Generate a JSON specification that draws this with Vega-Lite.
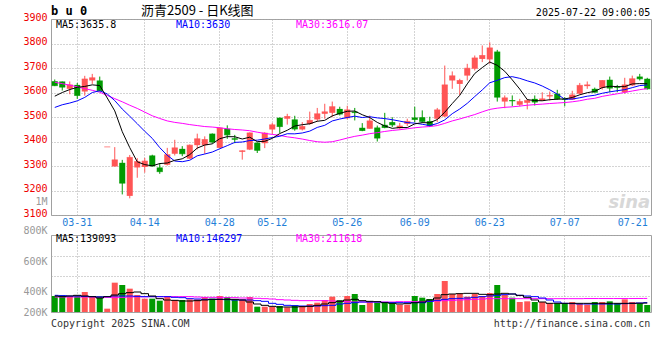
{
"$schema": "https://vega.github.io/schema/vega-lite/v6.json",
"background": "white",
"padding": {"left": 22, "top": 4, "right": 0, "bottom": 0},
"bounds": "flush",
"spacing": 20,
"resolve": {"scale": {"x": "independent", "y": "independent"}},
"config": {
  "numberFormat": "d",
  "view": {"stroke": "#a0a0a0", "strokeWidth": 1},
  "axis": {"gridColor": "#a8a8a8", "gridDash": [1, 2], "gridWidth": 1, "ticks": false, "tickSize": 0, "domain": false, "labelFont": "DejaVu Sans Mono", "labelFontSize": 10, "labelOverlap": false},
  "axisY": {"labelOverlap": false, "labelFlush": false, "labelPadding": 4, "labelBound": false},
  "text": {"font": "DejaVu Sans Mono", "fontSize": 10}
},
"datasets": {"k": [
{"d":"03-26","o":3646,"h":3653,"l":3626,"c":3628,"v":249600,"m5":3585,"m10":3539,"m30":3642,"vm5":249600,"vm10":260000,"vm30":234000},
{"d":"03-27","o":3645,"h":3645,"l":3608,"c":3622,"v":260000,"m5":3600,"m10":3550,"m30":3636,"vm5":239200,"vm10":254800,"vm30":234000},
{"d":"03-28","o":3615,"h":3645,"l":3593,"c":3631,"v":249600,"m5":3612,"m10":3557,"m30":3630,"vm5":249600,"vm10":249600,"vm30":234000},
{"d":"03-31","o":3631,"h":3639,"l":3574,"c":3588,"v":249600,"m5":3621,"m10":3566,"m30":3623,"vm5":260000,"vm10":249600,"vm30":234000},
{"d":"04-01","o":3604,"h":3668,"l":3587,"c":3655,"v":312000,"m5":3624.8,"m10":3580,"m30":3616,"vm5":249600,"vm10":244400,"vm30":234000},
{"d":"04-02","o":3649,"h":3676,"l":3635,"c":3660,"v":249600,"m5":3631.2,"m10":3600,"m30":3609,"vm5":239200,"vm10":239200,"vm30":234000},
{"d":"04-03","o":3649,"h":3665,"l":3604,"c":3607,"v":249600,"m5":3628.2,"m10":3607,"m30":3601,"vm5":218400,"vm10":234000,"vm30":231400},
{"d":"04-07","o":3378,"h":3378,"l":3378,"c":3378,"v":52000,"m5":3577.6,"m10":3594,"m30":3588,"vm5":239200,"vm10":239200,"vm30":228800},
{"d":"04-08","o":3298,"h":3377,"l":3298,"c":3325,"v":457600,"m5":3525,"m10":3567,"m30":3575,"vm5":265200,"vm10":249600,"vm30":223600},
{"d":"04-09","o":3313,"h":3325,"l":3184,"c":3230,"v":421200,"m5":3440,"m10":3532.4,"m30":3562,"vm5":286000,"vm10":249600,"vm30":228800},
{"d":"04-10","o":3178,"h":3345,"l":3168,"c":3335,"v":364000,"m5":3375,"m10":3503.1,"m30":3548,"vm5":301600,"vm10":249600,"vm30":234000},
{"d":"04-11","o":3294,"h":3332,"l":3252,"c":3318,"v":265200,"m5":3317.2,"m10":3472.7,"m30":3535,"vm5":312000,"vm10":244400,"vm30":236600},
{"d":"04-14","o":3296,"h":3333,"l":3273,"c":3320,"v":208000,"m5":3305.6,"m10":3441.6,"m30":3520,"vm5":286000,"vm10":239200,"vm30":236600},
{"d":"04-15","o":3343,"h":3346,"l":3298,"c":3300,"v":208000,"m5":3300.6,"m10":3412.8,"m30":3505,"vm5":249600,"vm10":239200,"vm30":239200},
{"d":"04-16","o":3294,"h":3312,"l":3268,"c":3277,"v":176800,"m5":3310,"m10":3375,"m30":3494,"vm5":208000,"vm10":239200,"vm30":239200},
{"d":"04-17","o":3305,"h":3374,"l":3302,"c":3346,"v":249600,"m5":3312.2,"m10":3343.6,"m30":3484,"vm5":187200,"vm10":239200,"vm30":239200},
{"d":"04-18","o":3350,"h":3407,"l":3343,"c":3374,"v":187200,"m5":3323.4,"m10":3320.3,"m30":3478,"vm5":182000,"vm10":228800,"vm30":239200},
{"d":"04-21","o":3370,"h":3381,"l":3340,"c":3350,"v":187200,"m5":3329.4,"m10":3317.5,"m30":3474,"vm5":171600,"vm10":223600,"vm30":239200},
{"d":"04-22","o":3330,"h":3388,"l":3328,"c":3385,"v":197600,"m5":3346.4,"m10":3323.5,"m30":3469,"vm5":171600,"vm10":208000,"vm30":239200},
{"d":"04-23","o":3385,"h":3432,"l":3368,"c":3411,"v":197600,"m5":3373.2,"m10":3341.6,"m30":3465,"vm5":176800,"vm10":202800,"vm30":234000},
{"d":"04-24","o":3385,"h":3421,"l":3350,"c":3408,"v":234000,"m5":3385.6,"m10":3348.9,"m30":3461,"vm5":187200,"vm10":197600,"vm30":228800},
{"d":"04-25","o":3432,"h":3433,"l":3392,"c":3398,"v":208000,"m5":3390.4,"m10":3356.9,"m30":3459,"vm5":197600,"vm10":197600,"vm30":228800},
{"d":"04-28","o":3374,"h":3457,"l":3374,"c":3455,"v":249600,"m5":3411.4,"m10":3370.4,"m30":3456,"vm5":197600,"vm10":197600,"vm30":228800},
{"d":"04-29","o":3452,"h":3466,"l":3411,"c":3427,"v":234000,"m5":3419.8,"m10":3383.1,"m30":3452,"vm5":197600,"vm10":192400,"vm30":223600},
{"d":"04-30","o":3413,"h":3427,"l":3393,"c":3409,"v":197600,"m5":3419.4,"m10":3396.3,"m30":3449,"vm5":197600,"vm10":187200,"vm30":223600},
{"d":"05-06","o":3358,"h":3364,"l":3326,"c":3362,"v":197600,"m5":3410.2,"m10":3397.9,"m30":3447,"vm5":187200,"vm10":187200,"vm30":218400},
{"d":"05-07","o":3367,"h":3437,"l":3365,"c":3435,"v":234000,"m5":3417.6,"m10":3404,"m30":3444,"vm5":156000,"vm10":187200,"vm30":218400},
{"d":"05-08","o":3395,"h":3397,"l":3353,"c":3364,"v":83200,"m5":3399.4,"m10":3405.4,"m30":3438,"vm5":124800,"vm10":176800,"vm30":213200},
{"d":"05-09","o":3393,"h":3438,"l":3373,"c":3434,"v":83200,"m5":3400.8,"m10":3410.3,"m30":3433,"vm5":104000,"vm10":166400,"vm30":208000},
{"d":"05-12","o":3449,"h":3476,"l":3431,"c":3468,"v":83200,"m5":3412.6,"m10":3416,"m30":3429,"vm5":88400,"vm10":135200,"vm30":202800},
{"d":"05-13","o":3497,"h":3498,"l":3435,"c":3461,"v":93600,"m5":3432.4,"m10":3421.3,"m30":3425,"vm5":78000,"vm10":119600,"vm30":192400},
{"d":"05-14","o":3493,"h":3513,"l":3469,"c":3502,"v":72800,"m5":3445.8,"m10":3431.7,"m30":3419,"vm5":78000,"vm10":104000,"vm30":187200},
{"d":"05-15","o":3490,"h":3505,"l":3444,"c":3451,"v":104000,"m5":3463.2,"m10":3431.3,"m30":3415,"vm5":78000,"vm10":98800,"vm30":182000},
{"d":"05-16","o":3449,"h":3479,"l":3445,"c":3461,"v":93600,"m5":3468.6,"m10":3434.7,"m30":3410,"vm5":83200,"vm10":93600,"vm30":176800},
{"d":"05-19","o":3472,"h":3522,"l":3468,"c":3486,"v":124800,"m5":3472.2,"m10":3442.4,"m30":3404,"vm5":88400,"vm10":93600,"vm30":176800},
{"d":"05-20","o":3490,"h":3537,"l":3482,"c":3513,"v":145600,"m5":3482.6,"m10":3457.5,"m30":3399,"vm5":104000,"vm10":93600,"vm30":176800},
{"d":"05-21","o":3513,"h":3554,"l":3493,"c":3521,"v":187200,"m5":3486.4,"m10":3466.1,"m30":3397,"vm5":124800,"vm10":98800,"vm30":176800},
{"d":"05-22","o":3517,"h":3563,"l":3499,"c":3542,"v":239200,"m5":3504.6,"m10":3483.9,"m30":3399,"vm5":145600,"vm10":104000,"vm30":171600},
{"d":"05-23","o":3533,"h":3542,"l":3506,"c":3512,"v":187200,"m5":3514.8,"m10":3491.7,"m30":3406,"vm5":166400,"vm10":124800,"vm30":166400},
{"d":"05-26","o":3495,"h":3546,"l":3490,"c":3529,"v":249600,"m5":3523.4,"m10":3497.8,"m30":3414,"vm5":187200,"vm10":135200,"vm30":161200},
{"d":"05-27","o":3522,"h":3537,"l":3486,"c":3518,"v":280800,"m5":3524.4,"m10":3503.5,"m30":3421,"vm5":197600,"vm10":145600,"vm30":156000},
{"d":"05-28","o":3456,"h":3475,"l":3442,"c":3445,"v":109200,"m5":3509.2,"m10":3497.8,"m30":3426,"vm5":176800,"vm10":156000,"vm30":156000},
{"d":"05-29","o":3452,"h":3506,"l":3452,"c":3484,"v":156000,"m5":3497.6,"m10":3501.1,"m30":3432,"vm5":166400,"vm10":156000,"vm30":156000},
{"d":"05-30","o":3457,"h":3465,"l":3400,"c":3414,"v":145600,"m5":3478,"m10":3496.4,"m30":3436,"vm5":161200,"vm10":156000,"vm30":156000},
{"d":"06-03","o":3468,"h":3517,"l":3454,"c":3457,"v":145600,"m5":3463.6,"m10":3493.5,"m30":3441,"vm5":145600,"vm10":150800,"vm30":156000},
{"d":"06-04","o":3479,"h":3499,"l":3459,"c":3468,"v":135200,"m5":3453.6,"m10":3489,"m30":3445,"vm5":135200,"vm10":145600,"vm30":156000},
{"d":"06-05","o":3454,"h":3476,"l":3449,"c":3463,"v":114400,"m5":3457.2,"m10":3483.2,"m30":3448,"vm5":124800,"vm10":145600,"vm30":161200},
{"d":"06-06","o":3472,"h":3493,"l":3463,"c":3482,"v":114400,"m5":3456.8,"m10":3477.2,"m30":3452,"vm5":130000,"vm10":145600,"vm30":161200},
{"d":"06-09","o":3498,"h":3542,"l":3479,"c":3490,"v":249600,"m5":3472,"m10":3475,"m30":3456,"vm5":145600,"vm10":145600,"vm30":161200},
{"d":"06-10","o":3499,"h":3527,"l":3476,"c":3482,"v":223600,"m5":3477,"m10":3470.3,"m30":3459,"vm5":156000,"vm10":145600,"vm30":161200},
{"d":"06-11","o":3483,"h":3501,"l":3459,"c":3465,"v":202800,"m5":3476.4,"m10":3465,"m30":3461,"vm5":187200,"vm10":166400,"vm30":166400},
{"d":"06-12","o":3493,"h":3537,"l":3479,"c":3529,"v":280800,"m5":3489.6,"m10":3473.4,"m30":3465,"vm5":218400,"vm10":182000,"vm30":171600},
{"d":"06-13","o":3502,"h":3710,"l":3500,"c":3631,"v":483600,"m5":3519.4,"m10":3488.1,"m30":3474,"vm5":270400,"vm10":197600,"vm30":176800},
{"d":"06-16","o":3649,"h":3686,"l":3615,"c":3668,"v":280800,"m5":3555,"m10":3513.5,"m30":3484,"vm5":280800,"vm10":208000,"vm30":182000},
{"d":"06-17","o":3635,"h":3656,"l":3590,"c":3649,"v":291200,"m5":3588.4,"m10":3532.7,"m30":3492,"vm5":286000,"vm10":213200,"vm30":187200},
{"d":"06-18","o":3669,"h":3717,"l":3649,"c":3699,"v":239200,"m5":3635.2,"m10":3555.8,"m30":3501,"vm5":291200,"vm10":218400,"vm30":192400},
{"d":"06-19","o":3697,"h":3751,"l":3690,"c":3741,"v":280800,"m5":3677.6,"m10":3583.6,"m30":3510,"vm5":291200,"vm10":228800,"vm30":197600},
{"d":"06-20","o":3737,"h":3792,"l":3724,"c":3751,"v":249600,"m5":3701.6,"m10":3610.5,"m30":3521,"vm5":275600,"vm10":239200,"vm30":202800},
{"d":"06-23","o":3735,"h":3805,"l":3717,"c":3782,"v":296400,"m5":3724.4,"m10":3639.7,"m30":3531,"vm5":270400,"vm10":249600,"vm30":208000},
{"d":"06-24","o":3767,"h":3774,"l":3563,"c":3581,"v":421200,"m5":3710.8,"m10":3649.6,"m30":3536,"vm5":280800,"vm10":260000,"vm30":208000},
{"d":"06-25","o":3563,"h":3588,"l":3536,"c":3578,"v":265200,"m5":3686.6,"m10":3660.9,"m30":3539.5,"vm5":291200,"vm10":270400,"vm30":208000},
{"d":"06-26","o":3569,"h":3588,"l":3544,"c":3566,"v":223600,"m5":3651.6,"m10":3664.6,"m30":3541.5,"vm5":280800,"vm10":280800,"vm30":208000},
{"d":"06-27","o":3550,"h":3574,"l":3544,"c":3563,"v":156000,"m5":3614,"m10":3657.8,"m30":3544.5,"vm5":260000,"vm10":260000,"vm30":208000},
{"d":"06-30","o":3558,"h":3574,"l":3531,"c":3567,"v":166400,"m5":3571,"m10":3647.7,"m30":3548,"vm5":228800,"vm10":249600,"vm30":208000},
{"d":"07-01","o":3574,"h":3588,"l":3547,"c":3561,"v":156000,"m5":3567,"m10":3638.9,"m30":3550.5,"vm5":187200,"vm10":239200,"vm30":208000},
{"d":"07-02","o":3567,"h":3601,"l":3566,"c":3574,"v":156000,"m5":3566.2,"m10":3626.4,"m30":3552.5,"vm5":156000,"vm10":218400,"vm30":208000},
{"d":"07-03","o":3584,"h":3604,"l":3567,"c":3588,"v":135200,"m5":3570.6,"m10":3611.1,"m30":3555,"vm5":135200,"vm10":187200,"vm30":208000},
{"d":"07-04","o":3595,"h":3611,"l":3570,"c":3574,"v":135200,"m5":3572.8,"m10":3593.4,"m30":3557,"vm5":135200,"vm10":156000,"vm30":208000},
{"d":"07-07","o":3574,"h":3581,"l":3544,"c":3572,"v":135200,"m5":3573.8,"m10":3572.4,"m30":3559,"vm5":135200,"vm10":135200,"vm30":208000},
{"d":"07-08","o":3571,"h":3607,"l":3570,"c":3590,"v":156000,"m5":3579.6,"m10":3573.3,"m30":3562,"vm5":135200,"vm10":130000,"vm30":208000},
{"d":"07-09","o":3595,"h":3639,"l":3592,"c":3629,"v":124800,"m5":3590.6,"m10":3578.4,"m30":3566.3,"vm5":135200,"vm10":124800,"vm30":208000},
{"d":"07-10","o":3626,"h":3645,"l":3615,"c":3631,"v":114400,"m5":3599.2,"m10":3584.9,"m30":3572.5,"vm5":135200,"vm10":124800,"vm30":210000},
{"d":"07-11","o":3615,"h":3620,"l":3600,"c":3601,"v":156000,"m5":3604.6,"m10":3588.7,"m30":3576.4,"vm5":135200,"vm10":124800,"vm30":210000},
{"d":"07-14","o":3619,"h":3651,"l":3612,"c":3649,"v":156000,"m5":3620,"m10":3596.9,"m30":3584.2,"vm5":135200,"vm10":124800,"vm30":210000},
{"d":"07-15","o":3652,"h":3665,"l":3601,"c":3618,"v":166400,"m5":3625.6,"m10":3602.6,"m30":3589.6,"vm5":135200,"vm10":124800,"vm30":210000},
{"d":"07-16","o":3623,"h":3631,"l":3601,"c":3621,"v":135200,"m5":3624,"m10":3607.3,"m30":3594.7,"vm5":135200,"vm10":124800,"vm30":210000},
{"d":"07-17","o":3601,"h":3660,"l":3595,"c":3631,"v":197600,"m5":3624,"m10":3611.6,"m30":3600.3,"vm5":135200,"vm10":130000,"vm30":210000},
{"d":"07-18","o":3629,"h":3669,"l":3626,"c":3656,"v":156000,"m5":3635,"m10":3619.8,"m30":3606.1,"vm5":135200,"vm10":135200,"vm30":210000},
{"d":"07-21","o":3665,"h":3676,"l":3649,"c":3656,"v":135200,"m5":3636.4,"m10":3628.2,"m30":3611.6,"vm5":137000,"vm10":140000,"vm30":211000},
{"d":"07-22","o":3656,"h":3660,"l":3612,"c":3615,"v":109200,"m5":3635.8,"m10":3630.7,"m30":3616.07,"vm5":139093,"vm10":146297,"vm30":211618}
]},
"vconcat": [
{
  "width": 600, "height": 196,
  "data": {"name": "k"},
  "encoding": {
    "x": {"field": "d", "type": "ordinal", "sort": null, "title": null,
      "scale": {"paddingInner": 0, "paddingOuter": 0},
      "axis": {"values": ["03-31","04-14","04-28","05-12","05-26","06-09","06-23","07-07","07-21"], "labelAngle": 0, "grid": true, "bandPosition": 0.5, "labelColor": "#1f80d8", "labelPadding": 2, "labelOverlap": false, "labelBound": false,
        "labelOffset": {"condition": {"test": "datum.value == '07-21'", "value": -7}, "value": 0},
        "gridOpacity": {"condition": {"test": "datum.value == '07-21'", "value": 0}, "value": 1}}}
  },
  "layer": [
    {"mark": {"type": "rule", "strokeWidth": 1},
     "encoding": {
       "y": {"field": "l", "type": "quantitative", "title": null, "scale": {"domain": [3100, 3900], "nice": false, "zero": false},
         "axis": {"values": [3100,3200,3300,3400,3500,3600,3700,3800,3900], "format": "d", "labelColor": "#ee0000", "labelOffset": -2, "labelFlush": false, "labelOverlap": false, "grid": true}},
       "y2": {"field": "h"},
       "color": {"condition": {"test": "datum.c >= datum.o", "value": "#ff5555"}, "value": "#009a00"}}},
    {"mark": {"type": "bar", "width": {"band": 0.8}},
     "encoding": {
       "y": {"field": "o", "type": "quantitative", "title": null,
         "axis": {"values": [3100,3200,3300,3400,3500,3600,3700,3800,3900], "format": "d", "labelColor": "#ee0000", "labelOffset": -2, "labelFlush": false, "labelOverlap": false, "grid": true}},
       "y2": {"field": "c"},
       "color": {"condition": {"test": "datum.c >= datum.o", "value": "#ff5555"}, "value": "#009a00"}}},
    {"mark": {"type": "tick", "thickness": 1, "size": 6},
     "encoding": {
       "y": {"field": "c", "type": "quantitative", "title": null,
         "axis": {"values": [3100,3200,3300,3400,3500,3600,3700,3800,3900], "format": "d", "labelColor": "#ee0000", "labelOffset": -2, "labelFlush": false, "labelOverlap": false, "grid": true}},
       "color": {"condition": {"test": "datum.c >= datum.o", "value": "#ff5555"}, "value": "#009a00"}}},
    {"mark": {"type": "line", "color": "#ff00ff", "strokeWidth": 1},
     "encoding": {"y": {"field": "m30", "type": "quantitative", "title": null,
         "axis": {"values": [3100,3200,3300,3400,3500,3600,3700,3800,3900], "format": "d", "labelColor": "#ee0000", "labelOffset": -2, "labelFlush": false, "labelOverlap": false, "grid": true}}}},
    {"mark": {"type": "line", "color": "#0000ff", "strokeWidth": 1},
     "encoding": {"y": {"field": "m10", "type": "quantitative", "title": null,
         "axis": {"values": [3100,3200,3300,3400,3500,3600,3700,3800,3900], "format": "d", "labelColor": "#ee0000", "labelOffset": -2, "labelFlush": false, "labelOverlap": false, "grid": true}}}},
    {"mark": {"type": "line", "color": "#000000", "strokeWidth": 1},
     "encoding": {"y": {"field": "m5", "type": "quantitative", "title": null,
         "axis": {"values": [3100,3200,3300,3400,3500,3600,3700,3800,3900], "format": "d", "labelColor": "#ee0000", "labelOffset": -2, "labelFlush": false, "labelOverlap": false, "grid": true}}}},
    {"data": {"values": [{"t": "MA5:3635.8", "d": "03-26", "k": "m5"}, {"t": "MA10:3630", "d": "04-18", "k": "m10"}, {"t": "MA30:3616.07", "d": "05-15", "k": "m30"}]},
     "mark": {"type": "text", "align": "left", "baseline": "middle", "dx": 1.25},
     "encoding": {"x": {"field": "d", "type": "ordinal"}, "text": {"field": "t"},
       "y": {"datum": 3876, "type": "quantitative", "axis": {"values": [3100,3200,3300,3400,3500,3600,3700,3800,3900], "format": "d", "labelColor": "#ee0000", "labelOffset": -2, "labelFlush": false, "labelOverlap": false, "grid": true}},
       "color": {"field": "k", "type": "nominal", "scale": {"domain": ["m5", "m10", "m30"], "range": ["#000000", "#0000ff", "#ff00ff"]}, "legend": null}}},
    {"data": {"values": [{}]},
     "mark": {"type": "text", "text": "b u 0", "align": "left", "baseline": "middle", "dx": -3.75, "fontSize": 12, "fontWeight": "bold", "color": "#000000"},
     "encoding": {"x": {"datum": "03-26", "type": "ordinal"}, "y": {"datum": 3933, "type": "quantitative", "axis": {"values": [3100,3200,3300,3400,3500,3600,3700,3800,3900], "format": "d", "labelColor": "#ee0000", "labelOffset": -2, "labelFlush": false, "labelOverlap": false, "grid": true}}}},
    {"data": {"values": [{}]},
     "mark": {"type": "text", "text": "沥青2509 - 日K线图", "align": "left", "baseline": "middle", "dx": 3.75, "font": "Noto Sans CJK SC", "fontSize": 13, "color": "#000000"},
     "encoding": {"x": {"datum": "04-11", "type": "ordinal"}, "y": {"datum": 3933, "type": "quantitative", "axis": {"values": [3100,3200,3300,3400,3500,3600,3700,3800,3900], "format": "d", "labelColor": "#ee0000", "labelOffset": -2, "labelFlush": false, "labelOverlap": false, "grid": true}}}},
    {"data": {"values": [{}]},
     "mark": {"type": "text", "text": "2025-07-22 09:00:05", "align": "right", "baseline": "middle", "dx": 3, "color": "#000000"},
     "encoding": {"x": {"datum": "07-22", "type": "ordinal"}, "y": {"datum": 3926, "type": "quantitative", "axis": {"values": [3100,3200,3300,3400,3500,3600,3700,3800,3900], "format": "d", "labelColor": "#ee0000", "labelOffset": -2, "labelFlush": false, "labelOverlap": false, "grid": true}}}},
    {"data": {"values": [{}]},
     "mark": {"type": "text", "text": "sina", "align": "right", "baseline": "middle", "dx": 3, "font": "DejaVu Sans", "fontSize": 18, "fontWeight": "bold", "fontStyle": "italic", "color": "#d8d8d8"},
     "encoding": {"x": {"datum": "07-22", "type": "ordinal"}, "y": {"datum": 3148, "type": "quantitative", "axis": {"values": [3100,3200,3300,3400,3500,3600,3700,3800,3900], "format": "d", "labelColor": "#ee0000", "labelOffset": -2, "labelFlush": false, "labelOverlap": false, "grid": true}}}}
  ]
},
{
  "width": 600, "height": 77,
  "data": {"name": "k"},
  "encoding": {
    "x": {"field": "d", "type": "ordinal", "sort": null, "title": null,
      "scale": {"paddingInner": 0, "paddingOuter": 0},
      "axis": {"values": ["03-31","04-14","04-28","05-12","05-26","06-09","06-23","07-07"], "labels": false, "grid": true, "bandPosition": 0.5}}
  },
  "layer": [
    {"mark": {"type": "bar", "width": {"band": 0.8}},
     "encoding": {
       "y": {"field": "v", "type": "quantitative", "title": null, "scale": {"domain": [0, 1201200], "nice": false},
         "axis": {"values": [0, 242000, 561000, 881000, 1201200], "labelColor": "#999999", "labelFlush": false, "labelOverlap": false, "grid": true,
           "labelExpr": "datum.value > 1000000 ? '1M' : datum.value > 800000 ? '800K' : datum.value > 500000 ? '600K' : datum.value > 200000 ? '400K' : '200K'",
           "labelOffset": {"condition": [{"test": "datum.value > 1000000", "value": -34}, {"test": "datum.value > 800000", "value": -25}, {"test": "datum.value > 500000", "value": -15}, {"test": "datum.value > 200000", "value": -5}], "value": 0}}},
       "color": {"condition": {"test": "datum.c >= datum.o", "value": "#ff5555"}, "value": "#009a00"}}},
    {"data": {"name": "k"},
     "transform": [{"fold": ["vm30", "vm10", "vm5"], "as": ["k", "vma"]}],
     "mark": {"type": "line", "strokeWidth": 1, "interpolate": "step"},
     "encoding": {
       "y": {"field": "vma", "type": "quantitative", "title": null,
         "axis": {"values": [0, 242000, 561000, 881000, 1201200], "labelColor": "#999999", "labelFlush": false, "labelOverlap": false, "grid": true,
           "labelExpr": "datum.value > 1000000 ? '1M' : datum.value > 800000 ? '800K' : datum.value > 500000 ? '600K' : datum.value > 200000 ? '400K' : '200K'",
           "labelOffset": {"condition": [{"test": "datum.value > 1000000", "value": -34}, {"test": "datum.value > 800000", "value": -25}, {"test": "datum.value > 500000", "value": -15}, {"test": "datum.value > 200000", "value": -5}], "value": 0}}},
       "color": {"field": "k", "type": "nominal", "scale": {"domain": ["vm5", "vm10", "vm30"], "range": ["#000000", "#0000ff", "#ff00ff"]}, "legend": null},
       "order": {"field": "k", "sort": "descending"}}},
    {"data": {"values": [{"t": "MA5:139093", "d": "03-26", "k": "vm5"}, {"t": "MA10:146297", "d": "04-18", "k": "vm10"}, {"t": "MA30:211618", "d": "05-15", "k": "vm30"}]},
     "mark": {"type": "text", "align": "left", "baseline": "middle", "dx": 1.25},
     "encoding": {"x": {"field": "d", "type": "ordinal"}, "text": {"field": "t"},
       "y": {"datum": 1137200, "type": "quantitative",
         "axis": {"values": [0, 242000, 561000, 881000, 1201200], "labelColor": "#999999", "labelFlush": false, "labelOverlap": false, "grid": true,
           "labelExpr": "datum.value > 1000000 ? '1M' : datum.value > 800000 ? '800K' : datum.value > 500000 ? '600K' : datum.value > 200000 ? '400K' : '200K'",
           "labelOffset": {"condition": [{"test": "datum.value > 1000000", "value": -34}, {"test": "datum.value > 800000", "value": -25}, {"test": "datum.value > 500000", "value": -15}, {"test": "datum.value > 200000", "value": -5}], "value": 0}}},
       "color": {"field": "k", "type": "nominal", "scale": {"domain": ["vm5", "vm10", "vm30"], "range": ["#000000", "#0000ff", "#ff00ff"]}, "legend": null}}},
    {"data": {"values": [{"t": "Copyright 2025 SINA.COM", "d": "03-26", "a": "left"}, {"t": "http://finance.sina.com.cn", "d": "07-22", "a": "right"}]},
     "mark": {"type": "text", "baseline": "middle", "color": "#333333", "align": {"expr": "datum.a"}, "dx": {"expr": "datum.a == 'left' ? -3.75 : 3"}},
     "encoding": {"x": {"field": "d", "type": "ordinal"}, "text": {"field": "t"},
       "y": {"datum": -184000, "type": "quantitative",
         "axis": {"values": [0, 242000, 561000, 881000, 1201200], "labelColor": "#999999", "labelFlush": false, "labelOverlap": false, "grid": true,
           "labelExpr": "datum.value > 1000000 ? '1M' : datum.value > 800000 ? '800K' : datum.value > 500000 ? '600K' : datum.value > 200000 ? '400K' : '200K'",
           "labelOffset": {"condition": [{"test": "datum.value > 1000000", "value": -34}, {"test": "datum.value > 800000", "value": -25}, {"test": "datum.value > 500000", "value": -15}, {"test": "datum.value > 200000", "value": -5}], "value": 0}}}}}
  ]
}
]
}
